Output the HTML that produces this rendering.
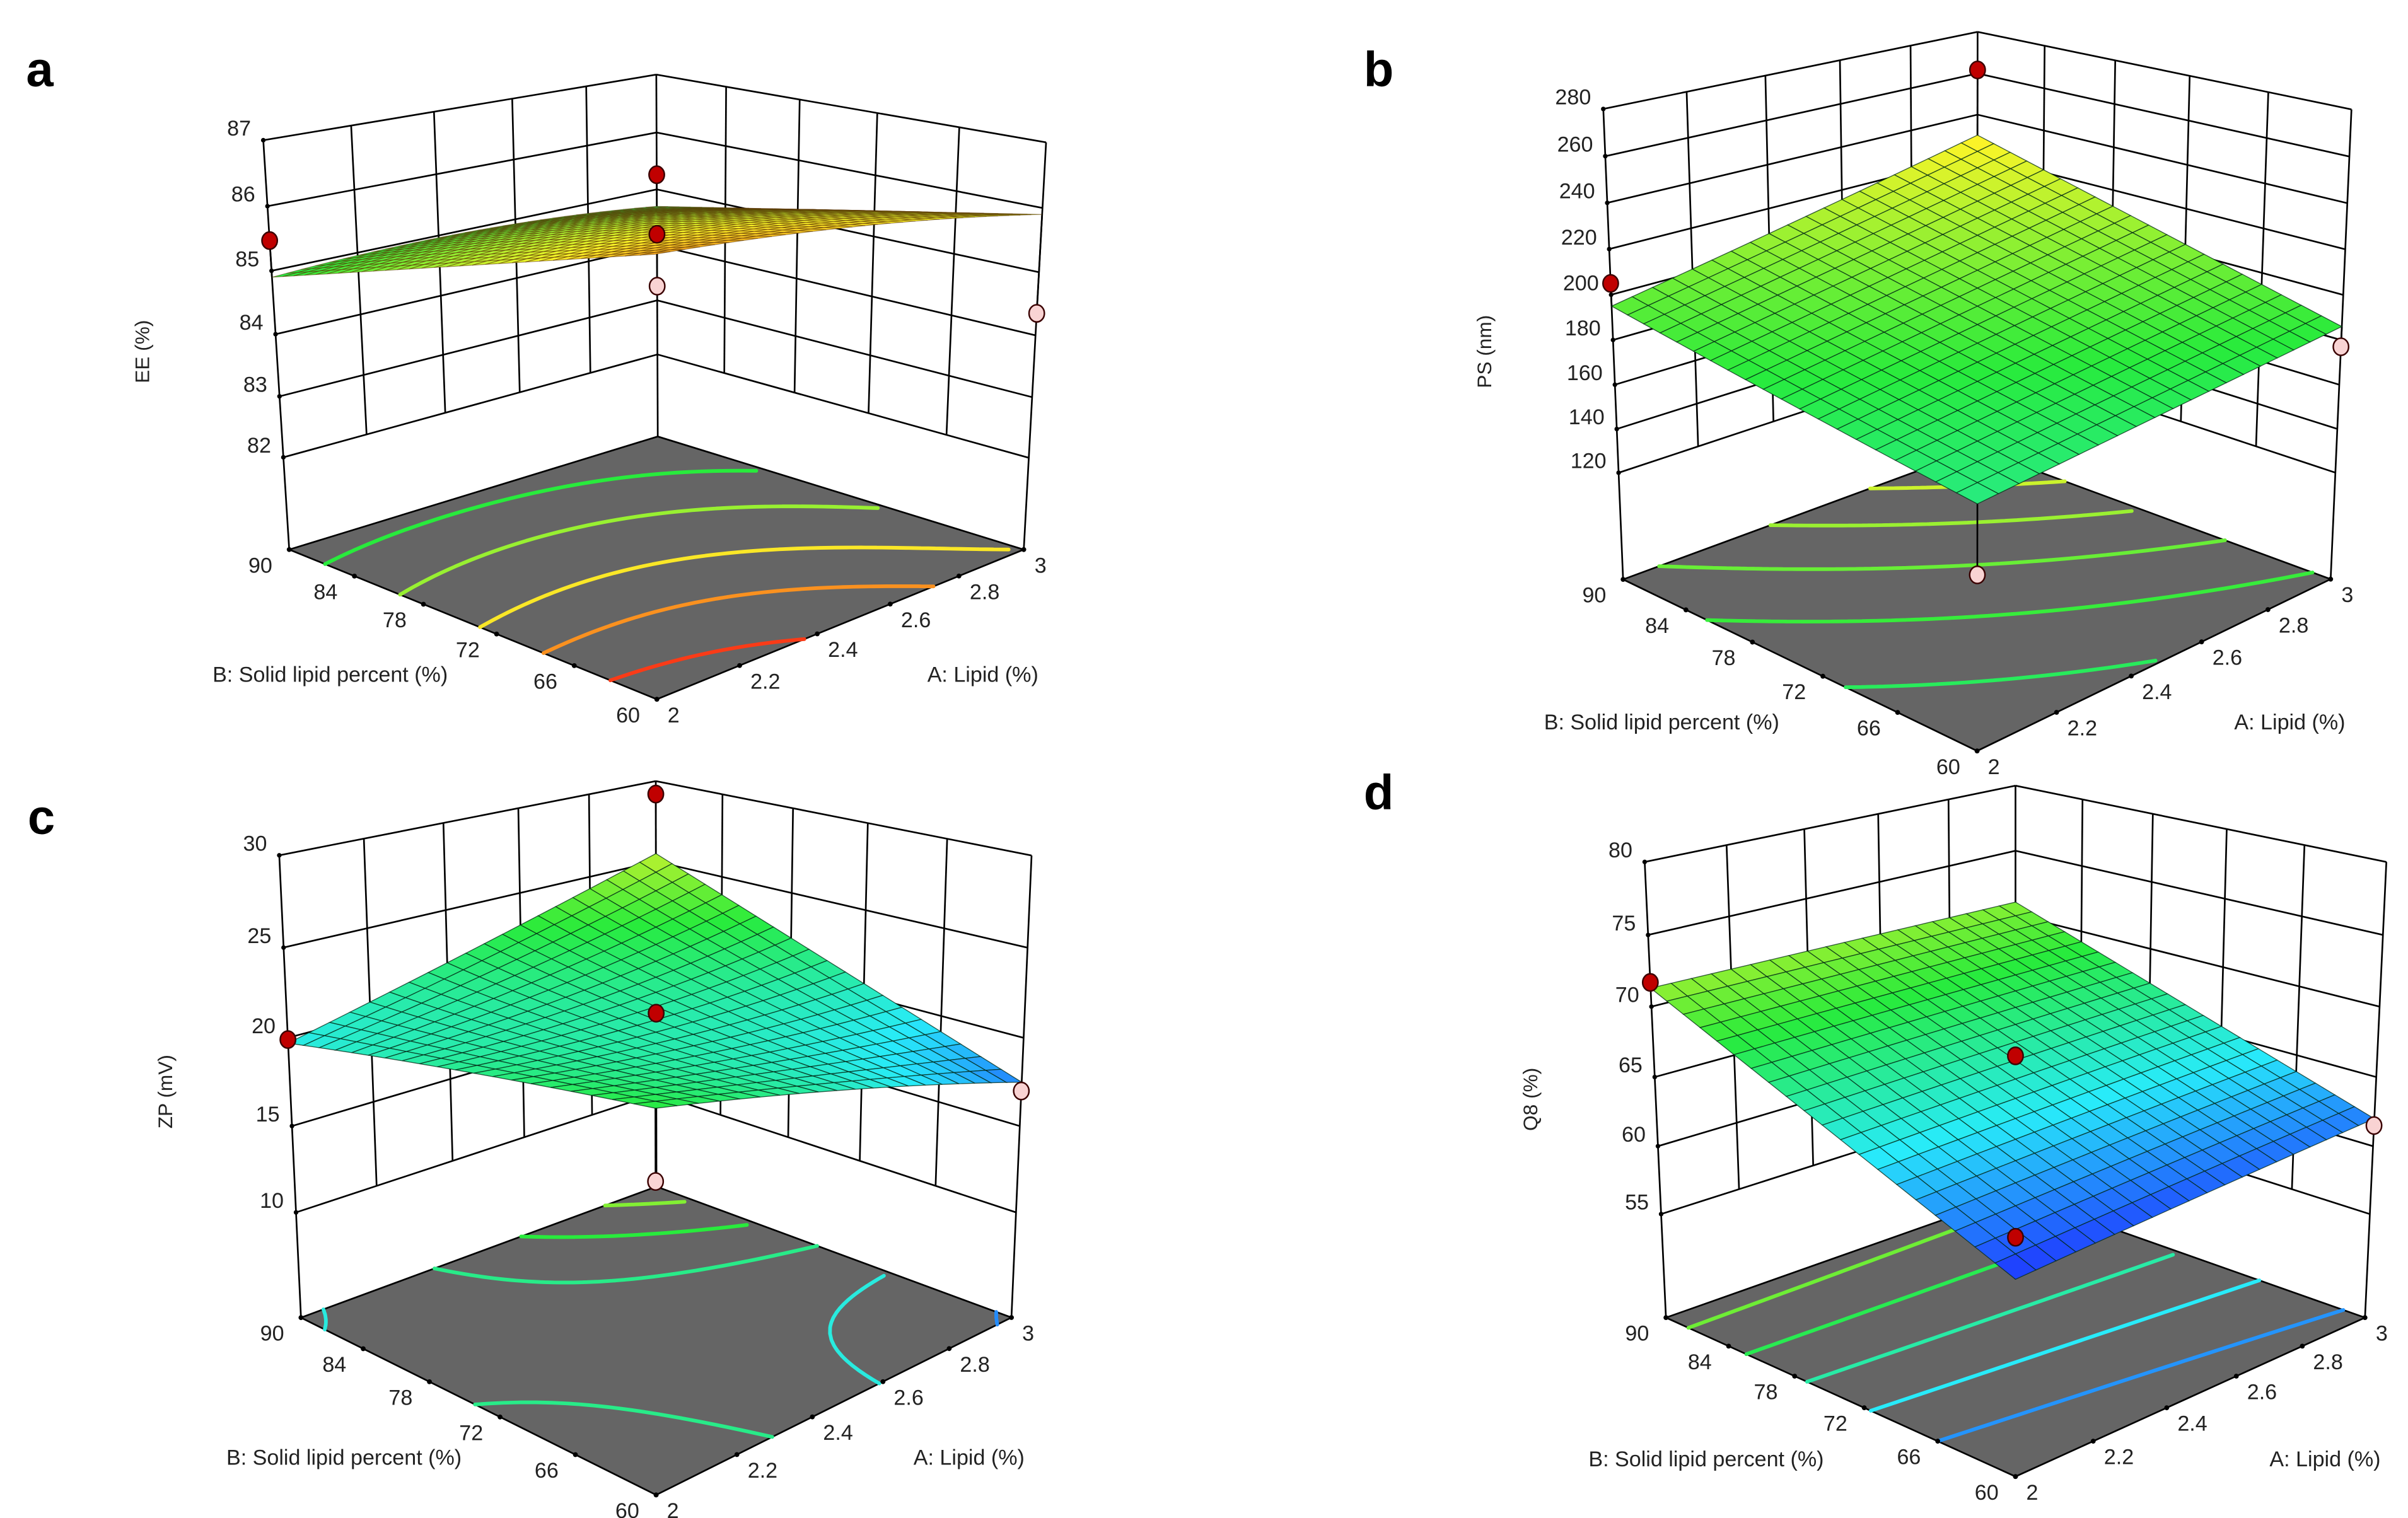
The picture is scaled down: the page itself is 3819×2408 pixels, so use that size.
<!DOCTYPE html>
<html><head><meta charset="utf-8"><style>
html,body{margin:0;padding:0;background:#fff;}
svg{display:block;}
text{font-family:"Liberation Sans",sans-serif;fill:#222;}
</style></head><body>
<svg id="fig" xmlns="http://www.w3.org/2000/svg" width="3819" height="2408" viewBox="0 0 1568 988.7" preserveAspectRatio="none">
<rect x="0" y="0" width="1568" height="988.7" fill="#fff"/>
<text x="17" y="56" font-size="32" font-weight="bold" style="fill:#000">a</text>
<text x="888" y="56" font-size="32" font-weight="bold" style="fill:#000">b</text>
<text x="18" y="543" font-size="32" font-weight="bold" style="fill:#000">c</text>
<text x="888" y="527" font-size="32" font-weight="bold" style="fill:#000">d</text>
</svg>
<script>
// ---- shared axis data ----
const aTicks=[2,2.2,2.4,2.6,2.8,3];
const bTicks=[60,66,72,78,84,90];
// ---- panel a: EE (%) ----
const eeTicks=[82,83,84,85,86,87];
const eeRowB60=[86.7,86.4,85.9];
const eeRowB75=[85.8,85.8,85.3];
const eeRowB90=[84.9,84.95,84.7];
const eeLevels=[85.1,85.5,85.9,86.2,86.5];
const eeDotA=[2,3,3,3,3];
const eeDotB=[90,90,90,90,60];
const eeDotZ=[85.47,85.26,84.2,83.26,84.35];
const eeDotRed=[1,1,1,0,0];
// ---- panel b: PS (nm) ----
const psTicks=[120,140,160,180,200,220,240,260,280];
const psRowB60=[170,178,186];
const psRowB75=[182,195,208];
const psRowB90=[195,212,230];
const psLevels=[178,188,198,208,218];
const psDotA=[2,3,3,2];
const psDotB=[90,90,60,60];
const psDotZ=[205,261.7,177,142];
const psDotRed=[1,1,0,0];
// ---- panel c: ZP (mV) ----
const zpTicks=[10,15,20,25,30];
const zpRowB60=[23,20.5,17.5];
const zpRowB75=[21.5,21,21.5];
const zpRowB90=[19.7,22.5,25.5];
const zpLevels=[17.8,20,21.6,23,24.5];
const zpDotA=[2,3,3,3,2];
const zpDotB=[90,90,90,60,60];
const zpDotZ=[19.9,29.2,15.3,17,19.5];
const zpDotRed=[1,1,1,0,0];
// ---- panel d: Q8 (%) ----
const q8Ticks=[55,60,65,70,75,80];
const q8RowB60=[60.3,61.2,62];
const q8RowB75=[65.8,66.2,66.5];
const q8RowB90=[71.3,71.15,71];
const q8Levels=[62.5,64.5,66.5,68.5,70.5];
const q8DotA=[2,3,3,2];
const q8DotB=[90,90,60,60];
const q8DotZ=[71.7,58.7,61.5,63];
const q8DotRed=[1,1,0,1];

const NS="http://www.w3.org/2000/svg";
const svg=document.getElementById('fig');
function el(tag,parent){const e=document.createElementNS(NS,tag);parent.appendChild(e);return e;}

function solve(M,b){const n=b.length;for(let i=0;i<n;i++){let p=i;for(let k=i+1;k<n;k++)if(Math.abs(M[k][i])>Math.abs(M[p][i]))p=k;
[M[i],M[p]]=[M[p],M[i]];[b[i],b[p]]=[b[p],b[i]];for(let k=i+1;k<n;k++){const f=M[k][i]/M[i][i];for(let j=i;j<n;j++)M[k][j]-=f*M[i][j];b[k]-=f*b[i];}}
const x=new Array(n).fill(0);for(let i=n-1;i>=0;i--){let s=b[i];for(let j=i+1;j<n;j++)s-=M[i][j]*x[j];x[i]=s/M[i][i];}return x;}

function fitCam(cal,zf,zt,cx,cy){const S=300;const rows=[],rhs=[];
for(const c of cal){const u=c[0],v=c[1],Z=(c[2]-zf)/(zt-zf),x=(c[3]-cx)/S,y=(c[4]-cy)/S;
rows.push([u,v,Z,1,0,0,0,0,-x*u,-x*v,-x*Z]);rhs.push(x);
rows.push([0,0,0,0,u,v,Z,1,-y*u,-y*v,-y*Z]);rhs.push(y);}
const N=11,M=[],b=[];for(let i=0;i<N;i++){M.push(new Array(N).fill(0));b.push(0);}
for(let r=0;r<rows.length;r++){for(let i=0;i<N;i++){b[i]+=rows[r][i]*rhs[r];for(let j=0;j<N;j++)M[i][j]+=rows[r][i]*rows[r][j];}}
for(let i=0;i<N;i++)M[i][i]+=1e-9;
const p=solve(M,b);
return function(u,v,Z){const d=p[8]*u+p[9]*v+p[10]*Z+1;return [cx+S*(p[0]*u+p[1]*v+p[2]*Z+p[3])/d, cy+S*(p[4]*u+p[5]*v+p[6]*Z+p[7])/d, d];};}

function cmap(t){t=Math.max(0,Math.min(1,t));const st=[[0,30,40,255],[0.25,40,235,250],[0.5,40,235,60],[0.75,250,245,40],[1,250,30,20]];
for(let i=1;i<st.length;i++){if(t<=st[i][0]){const a=st[i-1],b=st[i],f=(t-a[0])/(b[0]-a[0]);
return 'rgb('+Math.round(a[1]+f*(b[1]-a[1]))+','+Math.round(a[2]+f*(b[2]-a[2]))+','+Math.round(a[3]+f*(b[3]-a[3]))+')';}}return 'rgb(250,30,20)';}

function lag(t){return [2*(t-.5)*(t-1),-4*t*(t-1),2*t*(t-.5)];}

function drawPanel(P){
const g=el('g',svg);


const cam=fitCam(P.cal,P.zf,P.zt,P.cx,P.cy);
const U=A=>(A-2)/1, V=B=>(B-60)/30, W=z=>(z-P.zf)/(P.zt-P.zf);
const pr=(A,B,z)=>cam(U(A),V(B),W(z));
const rows=[P.r60,P.r75,P.r90];
const f=(u,v)=>{const lu=lag(u),lv=lag(v);let s=0;for(let i=0;i<3;i++)for(let j=0;j<3;j++)s+=lv[i]*lu[j]*rows[i][j];return s;};
const line=(p,q,name,w,col)=>{const l=el('line',g);l.setAttribute('x1',p[0]);l.setAttribute('y1',p[1]);l.setAttribute('x2',q[0]);l.setAttribute('y2',q[1]);
l.setAttribute('stroke',col||'#000');l.setAttribute('stroke-width',w||1.1);

return l;};
const zt0=P.zTicks[0], zTop=P.zt;
for(const a of aTicks){ if(a>2&&a<3) line(pr(a,90,zt0),pr(a,90,zTop),'left-wall-gridline'); }
for(const b of bTicks){ if(b>60&&b<90) line(pr(3,b,zt0),pr(3,b,zTop),'right-wall-gridline'); }
for(const z of P.zTicks){ line(pr(2,90,z),pr(3,90,z),'left-wall-z-gridline'); line(pr(3,90,z),pr(3,60,z),'right-wall-z-gridline'); }
line(pr(2,90,P.zf),pr(2,90,zTop),'left-corner-column');
line(pr(3,90,P.zf),pr(3,90,zTop),'back-corner-column');
line(pr(3,60,P.zf),pr(3,60,zTop),'right-corner-column');
const fl=el('polygon',g);
fl.setAttribute('points',[pr(2,60,P.zf),pr(3,60,P.zf),pr(3,90,P.zf),pr(2,90,P.zf)].map(p=>p[0].toFixed(2)+','+p[1].toFixed(2)).join(' '));
fl.setAttribute('fill','#656565');fl.setAttribute('stroke','#000');fl.setAttribute('stroke-width','1.1');


const N=48;const vals=[];for(let i=0;i<=N;i++){vals.push([]);for(let j=0;j<=N;j++)vals[i].push(f(i/N,j/N));}
for(const L of P.levels){let d='';const col=cmap((L-P.cmin)/(P.cmax-P.cmin));
for(let i=0;i<N;i++)for(let j=0;j<N;j++){const c=[[i,j],[i+1,j],[i+1,j+1],[i,j+1]];const pts=[];
for(let k=0;k<4;k++){const a=c[k],b=c[(k+1)%4];const va=vals[a[0]][a[1]],vb=vals[b[0]][b[1]];
if((va-L)*(vb-L)<0){const t=(L-va)/(vb-va);pts.push([(a[0]+t*(b[0]-a[0]))/N,(a[1]+t*(b[1]-a[1]))/N]);}}
for(let k=0;k+1<pts.length;k+=2){const p=cam(pts[k][0],pts[k][1],0),q=cam(pts[k+1][0],pts[k+1][1],0);
d+='M'+p[0].toFixed(2)+' '+p[1].toFixed(2)+'L'+q[0].toFixed(2)+' '+q[1].toFixed(2);}}
const cp=el('path',g);cp.setAttribute('d',d);cp.setAttribute('stroke',col);cp.setAttribute('stroke-width','2.4');cp.setAttribute('fill','none');cp.setAttribute('stroke-linecap','round');

}
for(const z of P.zTicks){const p=pr(2,90,z);const c=el('circle',g);c.setAttribute('cx',p[0]);c.setAttribute('cy',p[1]);c.setAttribute('r','1.5');


const t=el('text',g);t.setAttribute('x',p[0]-8);t.setAttribute('y',p[1]-3);t.setAttribute('text-anchor','end');t.setAttribute('font-size','14');t.textContent=z;

}
for(const b of bTicks){const p=pr(2,b,P.zf);const c=el('circle',g);c.setAttribute('cx',p[0]);c.setAttribute('cy',p[1]);c.setAttribute('r','1.6');


const t=el('text',g);t.setAttribute('x',p[0]-11);t.setAttribute('y',p[1]+15);t.setAttribute('text-anchor','end');t.setAttribute('font-size','14');t.textContent=b;

}
for(const a of aTicks){const p=pr(a,60,P.zf);const c=el('circle',g);c.setAttribute('cx',p[0]);c.setAttribute('cy',p[1]);c.setAttribute('r','1.6');


const t=el('text',g);t.setAttribute('x',p[0]+7);t.setAttribute('y',p[1]+15);t.setAttribute('text-anchor','start');t.setAttribute('font-size','14');t.textContent=(a===2||a===3)?String(a):a.toFixed(1);

}
let t=el('text',g);t.setAttribute('x',P.bT[0]);t.setAttribute('y',P.bT[1]+5);t.setAttribute('text-anchor','middle');t.setAttribute('font-size','14');t.textContent='B: Solid lipid percent (%)';


t=el('text',g);t.setAttribute('x',P.aT[0]);t.setAttribute('y',P.aT[1]+5);t.setAttribute('text-anchor','middle');t.setAttribute('font-size','14');t.setAttribute('xml:space','preserve');t.textContent='A: Lipid  (%)';


t=el('text',g);t.setAttribute('transform','translate('+P.zT[0]+','+P.zT[1]+') rotate(-90)');t.setAttribute('x','0');t.setAttribute('y','5');t.setAttribute('text-anchor','middle');t.setAttribute('font-size','13');t.textContent=P.zTitle;


for(let k=0;k<P.dA.length;k++){const s=f(U(P.dA[k]),V(P.dB[k]));line(pr(P.dA[k],P.dB[k],P.dZ[k]),pr(P.dA[k],P.dB[k],s),'design-point-drop-line',1.1);}
const M=P.mesh;const quads=[];
const dF=cam(0,0,0)[2],dB=cam(1,1,0)[2];const farBig=dB>dF;
for(let i=0;i<M;i++)for(let j=0;j<M;j++){const cs=[[i,j],[i+1,j],[i+1,j+1],[i,j+1]].map(c=>{const u=c[0]/M,v=c[1]/M;const z=f(u,v);return [cam(u,v,W(z)),z];});
const depth=cs.reduce((s,c)=>s+c[0][2],0)/4;const zv=cs.reduce((s,c)=>s+c[1],0)/4;quads.push([depth,cs,zv]);}
quads.sort((a,b)=>farBig?b[0]-a[0]:a[0]-b[0]);
const sg=el('g',g);


const smin=P.smin!==undefined?P.smin:P.cmin, smax=P.smax!==undefined?P.smax:P.cmax;
for(const q of quads){const pg=el('polygon',sg);pg.setAttribute('points',q[1].map(c=>c[0][0].toFixed(2)+','+c[0][1].toFixed(2)).join(' '));
pg.setAttribute('fill',cmap((q[2]-smin)/(smax-smin)));pg.setAttribute('stroke',P.meshCol+P.meshOp+')');pg.setAttribute('stroke-width',P.meshW);

}
for(let k=0;k<P.dA.length;k++){const p=pr(P.dA[k],P.dB[k],P.dZ[k]);const e=el('ellipse',g);e.setAttribute('cx',p[0]);e.setAttribute('cy',p[1]);e.setAttribute('rx','5');e.setAttribute('ry','5.6');
e.setAttribute('fill',P.dR[k]?'#c00000':'#f9d3d3');e.setAttribute('stroke','#3a0000');e.setAttribute('stroke-width','1');

}
}

drawPanel({name:'panel-a-ee',cx:428,cy:250,zf:80.45,zt:87,zTicks:eeTicks,r60:eeRowB60,r75:eeRowB75,r90:eeRowB90,levels:eeLevels,cmin:83.6,cmax:86.6,smin:82.5,smax:87.5,
dA:eeDotA,dB:eeDotB,dZ:eeDotZ,dR:eeDotRed,mesh:30,meshCol:'rgba(90,50,0,',meshOp:0.6,meshW:0.45,zTitle:'EE (%)',bT:[215,439],aT:[640,439],zT:[92,229],
cal:[[0,1,80.45,190,357],[0,1,82,183,295],[0,1,87,171,93],[1,1,80.45,428,288],[1,1,82,428,230],[1,1,87,428,47.6],[1,0,80.45,667,357],[1,0,82,669,296],[1,0,87,681.5,93.7],[0,0,80.45,428,458]]});
drawPanel({name:'panel-b-ps',cx:1288,cy:260,zf:70.4,zt:280,zTicks:psTicks,r60:psRowB60,r75:psRowB75,r90:psRowB90,levels:psLevels,cmin:100,cmax:270,
dA:psDotA,dB:psDotB,dZ:psDotZ,dR:psDotRed,mesh:20,meshCol:'rgba(0,40,20,',meshOp:0.75,meshW:0.55,zTitle:'PS (nm)',bT:[1082,470],aT:[1491,470],zT:[966,229],
cal:[[0,1,70.4,1056.8,376.7],[0,1,120,1054.6,304.8],[0,1,280,1043.3,72.6],[1,1,70.4,1287.6,296],[1,1,120,1287.6,230],[1,1,280,1287.6,19.6],[1,0,70.4,1516.9,376.7],[1,0,120,1520.6,304.8],[1,0,280,1531.9,72.6],[0,0,70.4,1287.6,491.7]]});
drawPanel({name:'panel-c-zp',cx:427,cy:740,zf:3.76,zt:30,zTicks:zpTicks,r60:zpRowB60,r75:zpRowB75,r90:zpRowB90,levels:zpLevels,cmin:16,cmax:30,
dA:zpDotA,dB:zpDotB,dZ:zpDotZ,dR:zpDotRed,mesh:20,meshCol:'rgba(0,40,20,',meshOp:0.75,meshW:0.55,zTitle:'ZP (mV)',bT:[224,949],aT:[631,949],zT:[107,711],
cal:[[0,1,3.76,196.9,857],[0,1,10,192.4,786.1],[0,1,30,181.2,559],[1,1,3.76,427.3,776.8],[1,1,10,427.3,712.6],[1,1,30,427.3,507],[1,0,3.76,657.7,857],[1,0,10,662.2,786.1],[1,0,30,672,559],[0,0,3.76,427.3,977.1]]});
drawPanel({name:'panel-d-q8',cx:1312,cy:740,zf:47.2,zt:80,zTicks:q8Ticks,r60:q8RowB60,r75:q8RowB75,r90:q8RowB90,levels:q8Levels,cmin:60,cmax:78,
dA:q8DotA,dB:q8DotB,dZ:q8DotZ,dR:q8DotRed,mesh:20,meshCol:'rgba(0,40,20,',meshOp:0.75,meshW:0.55,zTitle:'Q8 (%)',bT:[1111,950],aT:[1514,950],zT:[996,716],
cal:[[0,1,47.2,1085.3,858.6],[0,1,55,1081.7,788.4],[0,1,80,1070.4,562.3],[1,1,47.2,1312.4,779.9],[1,1,55,1312.4,716.3],[1,1,80,1312.4,511.3],[1,0,47.2,1539.5,858.6],[1,0,55,1543.1,788.4],[1,0,80,1554.5,562.3],[0,0,47.2,1312.4,962.9]]});
</script>
</body></html>
